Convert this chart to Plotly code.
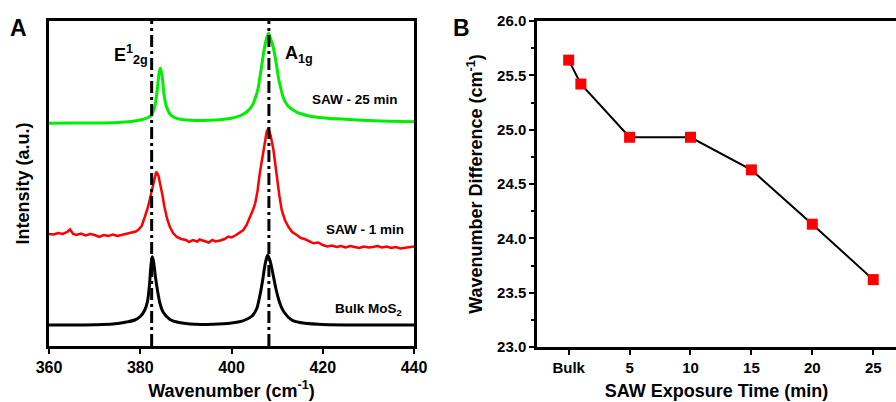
import plotly.graph_objects as go

# ---------------- Panel A data (Raman spectra, intensity in a.u.) ----------------
bulk_x = [360, 365, 370, 374, 377, 378.8, 380, 381, 381.6, 382, 382.3, 382.6, 382.9, 383.3, 383.8,
          384.3, 385.0, 386.5, 388.5, 392, 396, 400, 402, 403, 404.5, 405.5, 406.2, 406.8, 407.3,
          407.9, 408.4, 409, 409.7, 410.5, 411.5, 413.2, 415, 419, 425, 430, 435, 440]
bulk_y = [21, 21, 21.3, 22, 24, 26, 29.5, 36, 45, 60, 78, 89.3, 85, 70, 55,
          43, 34, 26.5, 23.5, 21.7, 21.8, 23, 24.5, 26, 30, 37, 50, 65, 80,
          91, 86, 74, 58, 44, 34, 26, 23.5, 21.7, 21, 21, 21, 21]

saw1_x = [360, 361, 362, 363, 364, 364.6, 365.3, 366, 367, 368, 369, 370, 371, 372, 373, 374, 375,
          376, 377, 378, 379, 379.5, 380.3, 381, 381.7, 382.4, 383, 383.5, 384, 384.4, 384.9, 385.3,
          385.9, 386.5, 387.2, 388, 389, 390, 390.7, 391.5, 392.5, 393, 394, 395, 395.8, 396.5,
          397.5, 398.5, 399.3, 400, 401, 402, 402.6, 403.3, 404.1, 404.7, 405.2, 405.7, 406.2,
          406.8, 407.3, 407.7, 408.1, 408.6, 409.2, 409.9, 410.5, 411, 411.7, 412.5, 413.3, 414.3,
          415.2, 416, 417, 418, 419, 420, 421, 422, 423, 424, 425, 426, 427, 428, 429, 430, 431,
          432, 433, 434, 435, 436, 437, 438, 439, 440]
saw1_y = [112, 111.5, 113, 112, 114, 116.5, 112, 111, 112.5, 110.5, 112, 111, 109, 111, 110, 111.5, 110,
          111, 112, 113, 114.5, 116, 120, 129, 139, 152.7, 166, 174.3, 170, 162, 150, 139,
          127, 119, 113, 109, 107, 106, 104, 106, 104.5, 106.5, 105, 103.5, 106, 104.5,
          105.5, 107, 109.5, 108.5, 111, 114, 116, 121, 129, 136, 142.7, 155, 172.7,
          190, 206, 214, 217.7, 210, 196, 169, 150, 136, 126, 119, 114, 111,
          108, 107, 104.5, 102.7, 103.5, 101, 99.5, 100.5, 99, 100, 98.5, 100, 99, 98, 99.5, 98.5, 99,
          100, 98.5, 99.5, 98, 99, 97.5, 98, 99, 99.5]

saw25_x = [360, 365, 370, 375, 378, 380, 381.5, 382.5, 383.2, 383.7, 384.1, 384.4, 384.8, 385.2,
           385.7, 386.5, 387.5, 389, 392, 395, 398, 400, 402, 403.3, 404.5, 405.2, 405.8, 406.2,
           406.7, 407.1, 407.6, 408.1, 408.6, 409.2, 409.8, 410.3, 410.9, 411.4, 412.3, 413.5, 415,
           417.9, 421, 425, 430, 435, 440]
saw25_y = [222.7, 223, 223, 223.5, 224.5, 226, 228, 231, 240, 255, 272, 278, 270, 252,
           240, 232, 228.5, 226.5, 225.5, 225.7, 226.5, 227.7, 230.5, 234, 240, 247.7, 257, 268,
           283, 295, 306, 312.7, 307, 297.7, 283, 268, 256, 247.7, 240.5, 236, 232.5,
           229.3, 227.8, 226.7, 225.5, 224.8, 224.3]

peak_positions = [382.5, 408.2]
a_ticks = [360, 380, 400, 420, 440]

# ---------------- Panel B data ----------------
exposure_time = [0, 1, 5, 10, 15, 20, 25]
wavenumber_diff = [25.64, 25.42, 24.93, 24.93, 24.63, 24.13, 23.62]
b_tickvals = [0, 5, 10, 15, 20, 25]
b_ticktext = ["Bulk", "5", "10", "15", "20", "25"]

W, H = 896, 402
FONT = "Liberation Sans, Arial, sans-serif"


def px(x):
    return x / W


def py(y):
    return 1 - y / H


fig = go.Figure()

fig.add_trace(go.Scatter(x=bulk_x, y=bulk_y, mode="lines", line=dict(color="black", width=3, shape="spline", smoothing=0.8),
                         xaxis="x", yaxis="y", showlegend=False))
fig.add_trace(go.Scatter(x=saw1_x, y=saw1_y, mode="lines", line=dict(color="#ff0000", width=2.5),
                         xaxis="x", yaxis="y", showlegend=False))
fig.add_trace(go.Scatter(x=saw25_x, y=saw25_y, mode="lines", line=dict(color="#00ee00", width=3, shape="spline", smoothing=0.8),
                         xaxis="x", yaxis="y", showlegend=False))

fig.add_trace(go.Scatter(x=exposure_time, y=wavenumber_diff, mode="lines+markers",
                         line=dict(color="black", width=2),
                         marker=dict(symbol="square", size=11, color="#ff0000", line=dict(width=0)),
                         xaxis="x2", yaxis="y2", showlegend=False))

# dash-dot reference lines at peak positions
for p in peak_positions:
    fig.add_shape(type="line", xref="x", yref="y domain", x0=p, x1=p, y0=0, y1=1,
                  line=dict(color="black", width=3, dash="12px,4px,3px,4px"))

axis_common = dict(showline=True, linecolor="black", linewidth=2.5, showgrid=False, zeroline=False,
                   automargin=False,
                   tickfont=dict(family=FONT, size=16, color="black", weight="bold"))

fig.update_layout(
    width=W, height=H,
    margin=dict(l=0, r=0, t=0, b=0, autoexpand=False),
    plot_bgcolor="white", paper_bgcolor="white",
    font=dict(family=FONT, color="black"),
    xaxis=dict(axis_common, domain=[px(49), px(414)], range=[360, 440], mirror=True,
               tickvals=a_ticks, ticks="outside", ticklen=5, tickwidth=2, tickcolor="black",
               title=dict(text="Wavenumber (cm<sup>-1</sup>)", standoff=10,
                          font=dict(family=FONT, size=18, color="black", weight="bold")),
               anchor="y"),
    yaxis=dict(axis_common, domain=[py(346), py(21)], range=[0, 325], mirror=True,
               showticklabels=False, ticks="",
               title=dict(text="Intensity (a.u.)", standoff=12,
                          font=dict(family=FONT, size=18, color="black", weight="bold")),
               anchor="x"),
    xaxis2=dict(axis_common, domain=[px(537), 1.0], range=[-2.6, 26.87], mirror=True,
                tickvals=b_tickvals, ticktext=b_ticktext, ticks="outside", ticklen=5, tickwidth=2,
                tickcolor="black",
                title=dict(text="SAW Exposure Time (min)", standoff=10,
                           font=dict(family=FONT, size=18, color="black", weight="bold")),
                tickfont=dict(family=FONT, size=15, color="black", weight="bold"),
                anchor="y2"),
    yaxis2=dict(axis_common, domain=[py(347), py(21)], range=[23.0, 26.0], mirror=False,
                tickvals=[23.0, 23.5, 24.0, 24.5, 25.0, 25.5, 26.0], tickformat=".1f",
                ticks="outside", ticklen=5, tickwidth=2, tickcolor="black",
                minor=dict(ticks="outside", dtick=0.25, ticklen=3, tickwidth=1.5, tickcolor="black"),
                title=dict(text="Wavenumber Difference (cm<sup>-1</sup>)", standoff=10,
                           font=dict(family=FONT, size=18, color="black", weight="bold")),
                tickfont=dict(family=FONT, size=15, color="black", weight="bold"),
                anchor="x2"),
)

ann_font = dict(family=FONT, color="black", weight="bold")
annotations = [
    dict(text="A", x=px(18), y=py(28), size=23),
    dict(text="B", x=px(461), y=py(28), size=23),
    dict(text="E<sup>1</sup><sub>2g</sub>", x=px(131), y=py(55), size=18),
    dict(text="A<sub>1g</sub>", x=px(299), y=py(55), size=18),
    dict(text="SAW - 25 min", x=px(355), y=py(100), size=13.5),
    dict(text="SAW - 1 min", x=px(365), y=py(229), size=13.5),
    dict(text="Bulk MoS<sub>2</sub>", x=px(368), y=py(309), size=13.5),
]
for a in annotations:
    fig.add_annotation(text=a["text"], x=a["x"], y=a["y"], xref="paper", yref="paper",
                       showarrow=False, xanchor="center", yanchor="middle",
                       font=dict(ann_font, size=a["size"]))

fig.write_html("out.html", config={"displayModeBar": False},
               post_script="document.body.style.margin='0';document.body.style.overflow='hidden';")
